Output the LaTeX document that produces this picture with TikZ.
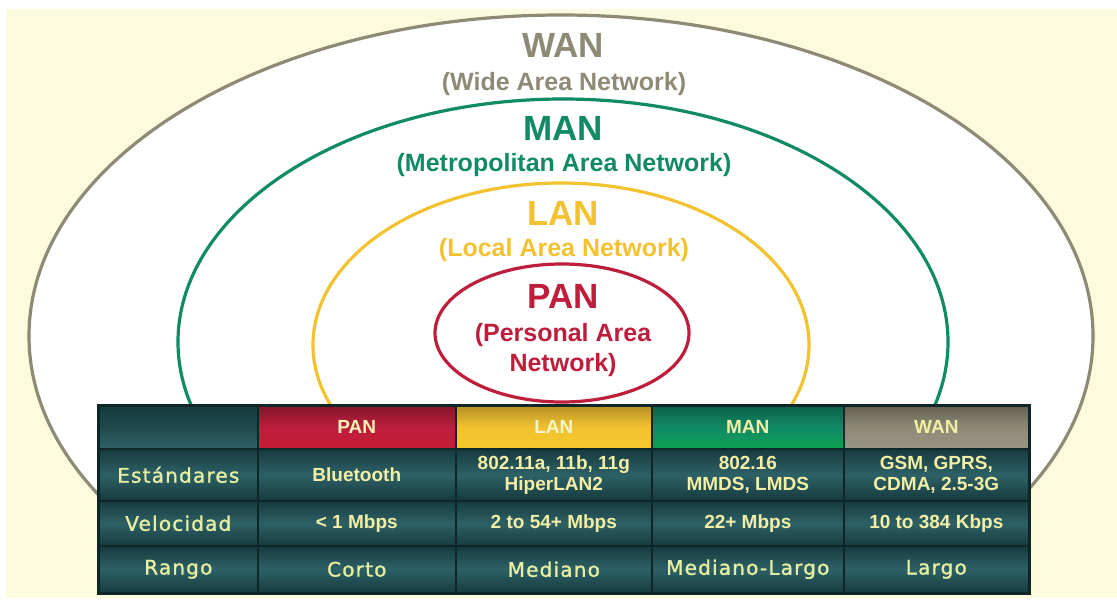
\documentclass[tikz,border=0pt]{standalone}
\usepackage{fontspec}
\setmainfont{Liberation Sans}
\newfontfamily\widefont[LetterSpace=6,FakeBold=1.2]{DejaVu Sans}
\definecolor{bgyellow}{HTML}{FDFBDD}
\definecolor{wancol}{HTML}{8E8A76}
\definecolor{mancol}{HTML}{118A66}
\definecolor{lancol}{HTML}{F2C230}
\definecolor{pancol}{HTML}{BE1E3C}
\definecolor{tealdark}{HTML}{163A3E}
\definecolor{tealmid}{HTML}{2D6166}
\definecolor{tealedge}{HTML}{0E2628}
\definecolor{txtyellow}{HTML}{F2EEA6}
\definecolor{lblyellow}{HTML}{E6EFA2}
\tikzset{
  ring/.style={line width=3.2pt},
  title/.style={font=\bfseries\fontsize{35}{38}\selectfont},
  subtitle/.style={font=\bfseries\fontsize{25}{30}\selectfont, align=center},
  cell/.style={draw=tealedge, line width=1.6pt, anchor=north west, inner sep=0pt,
    top color=tealdark, bottom color=tealdark, middle color=tealmid,
    text=txtyellow, align=center, font=\bfseries\fontsize{19}{21}\selectfont},
  lbl/.style={cell, text=lblyellow, font=\widefont\fontsize{20}{22}\selectfont},
  head/.style={cell, font=\bfseries\fontsize{19}{21}\selectfont, minimum height=43pt},
}
\begin{document}
\begin{tikzpicture}[x=1pt,y=-1pt]
\useasboundingbox (0,0) rectangle (1117,605);
\fill[bgyellow] (6,9) rectangle (1117,598);
% rings
\begin{scope}
\clip (0,0) rectangle (1117,590);
\draw[ring, draw=wancol, fill=white] (561,336) ellipse [x radius=532, y radius=321];
\draw[ring, draw=mancol] (563,342) ellipse [x radius=385, y radius=243];
\draw[ring, draw=lancol] (561,345) ellipse [x radius=248, y radius=162];
\draw[ring, draw=pancol] (562,333) ellipse [x radius=127, y radius=69];
\end{scope}
% titles
\node[title, text=wancol] (wan) at (563,45) {WAN};
\node[subtitle, text=wancol] (wansub) at (564,84) {(Wide Area Network)};
\node[title, text=mancol] (man) at (563,128) {MAN};
\node[subtitle, text=mancol] (mansub) at (564,165) {(Metropolitan Area Network)};
\node[title, text=lancol] (lan) at (563,213) {LAN};
\node[subtitle, text=lancol] (lansub) at (564,250) {(Local Area Network)};
\node[title, text=pancol] (pan) at (563,296) {PAN};
\node[subtitle, text=pancol] (pansub) at (563,350) {(Personal Area\\Network)};
% table header
\node[head, minimum width=159pt, top color=tealdark, bottom color=tealmid, middle color=tealdark!60!tealmid] (h0) at (98,405) {};
\node[head, minimum width=198pt, top color=pancol!70!black, bottom color=pancol!90!red, middle color=pancol, text=txtyellow!80!white] (h1) at (257,405) {PAN};
\node[head, minimum width=196pt, top color=lancol!75!black, bottom color=lancol!90!yellow, middle color=lancol, text=txtyellow!60!white] (h2) at (455,405) {LAN};
\node[head, minimum width=192pt, top color=mancol!70!black, bottom color=mancol!80!green, middle color=mancol] (h3) at (651,405) {MAN};
\node[head, minimum width=185pt, top color=wancol!70!black, bottom color=wancol!90!white, middle color=wancol] (h4) at (843,405) {WAN};
% row 1
\node[lbl, minimum width=159pt, minimum height=52pt] (r1c0) at (98,448) {Estándares};
\node[cell, minimum width=198pt, minimum height=52pt] (r1c1) at (257,448) {Bluetooth};
\node[cell, minimum width=196pt, minimum height=52pt] (r1c2) at (455,448) {802.11a, 11b, 11g\\HiperLAN2};
\node[cell, minimum width=192pt, minimum height=52pt] (r1c3) at (651,448) {802.16\\MMDS, LMDS};
\node[cell, minimum width=185pt, minimum height=52pt] (r1c4) at (843,448) {GSM, GPRS,\\CDMA, 2.5-3G};
% row 2
\node[lbl, minimum width=159pt, minimum height=45pt] (r2c0) at (98,500) {Velocidad};
\node[cell, minimum width=198pt, minimum height=45pt] (r2c1) at (257,500) {< 1 Mbps};
\node[cell, minimum width=196pt, minimum height=45pt] (r2c2) at (455,500) {2 to 54+ Mbps};
\node[cell, minimum width=192pt, minimum height=45pt] (r2c3) at (651,500) {22+ Mbps};
\node[cell, minimum width=185pt, minimum height=45pt] (r2c4) at (843,500) {10 to 384 Kbps};
% row 3
\node[lbl, minimum width=159pt, minimum height=47pt] (r3c0) at (98,545) {Rango};
\node[lbl, minimum width=198pt, minimum height=47pt] (r3c1) at (257,545) {Corto};
\node[lbl, minimum width=196pt, minimum height=47pt] (r3c2) at (455,545) {Mediano};
\node[lbl, minimum width=192pt, minimum height=47pt] (r3c3) at (651,545) {Mediano-Largo};
\node[lbl, minimum width=185pt, minimum height=47pt] (r3c4) at (843,545) {Largo};
% outline
\draw[tealedge, line width=2pt] (h0.north west) rectangle (r3c4.south east);
\end{tikzpicture}
\end{document}
